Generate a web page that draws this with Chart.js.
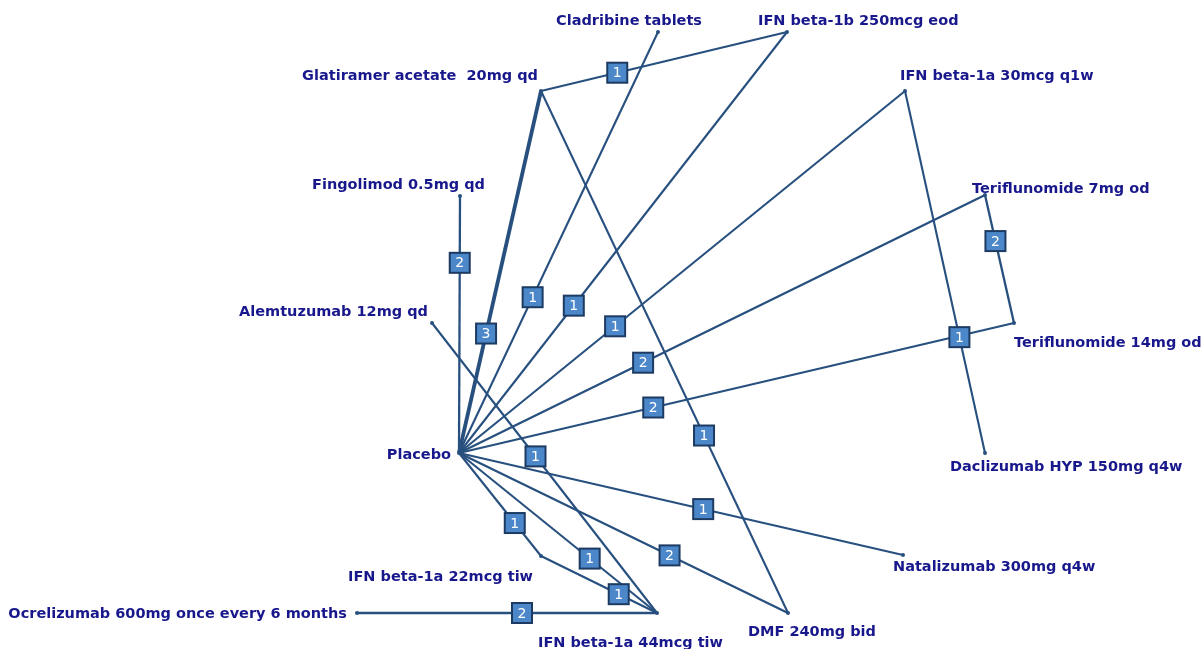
<!DOCTYPE html>
<html>
<head>
<meta charset="utf-8">
<script src="https://cdn.jsdelivr.net/npm/chart.js@4"></script>
<style>
  html, body { margin: 0; padding: 0; background: #fff; }
  #wrap { width: 1203px; height: 649px; position: relative; }
</style>
</head>
<body>
<div id="wrap"><canvas id="net"></canvas></div>
<script>
// ===== network data =====
const treatments = [
  'Placebo', 'Fingolimod 0.5mg qd', 'Alemtuzumab 12mg qd', 'Glatiramer acetate  20mg qd',
  'Cladribine tablets', 'IFN beta-1b 250mcg eod', 'IFN beta-1a 30mcg q1w',
  'Teriflunomide 7mg od', 'Teriflunomide 14mg od', 'Daclizumab HYP 150mg q4w',
  'Natalizumab 300mg q4w', 'DMF 240mg bid', 'IFN beta-1a 44mcg tiw',
  'IFN beta-1a 22mcg tiw', 'Ocrelizumab 600mg once every 6 months'
];
// node layout coordinates (network plot positions)
const nodeX = [459, 460, 432, 541, 658, 787, 905, 985, 1014, 985, 903, 788, 657, 541, 357];
const nodeY = [453, 196, 323,  91,  32,  32,  91, 195,  323, 453, 555, 613, 613, 556, 613];

// comparisons: from, to, number of studies
const edgeFrom    = [0, 0, 0, 0, 0, 0, 0, 0, 0, 0, 0, 3, 3, 2, 13, 6, 7, 14];
const edgeTo      = [1, 3, 4, 5, 6, 7, 8, 10, 11, 12, 13, 5, 11, 12, 12, 9, 8, 12];
const edgeStudies = [2, 3, 1, 1, 1, 2, 2, 1, 2, 1, 1, 1, 1, 1, 1, 1, 2, 2];

// ===== layout / style =====
const LINE  = '#28507f';
const BOXF  = '#4b87c9';
const BOXB  = '#1d3b62';
const TEXT  = '#18188c';
const FONT  = 'bold 14.5px "DejaVu Sans", sans-serif';

// where the count box sits along each edge (fraction from "from" node)
const boxAt = [0.74, 0.33, 0.37, 0.35, 0.35, 0.35, 0.35, 0.55, 0.64, 0.66, 0.68, 0.31, 0.66, 0.46, 0.67, 0.68, 0.36, 0.55];

// label offsets from node: dx, dy, align
const labelPos = [
  [-8, 2, 'right'], [25, -11, 'right'], [-4, -11, 'right'], [-3, -15, 'right'],
  [44, -11, 'right'], [-29, -11, 'left'], [-5, -15, 'left'], [-13, -6, 'left'],
  [0, 20, 'left'], [-35, 14, 'left'], [-10, 12, 'left'], [-40, 19, 'left'],
  [-119, 30, 'left'], [-8, 21, 'right'], [-10, 1, 'right']
];

function edgeWidth(n) {
  return n >= 3 ? 3.8 : (n === 2 ? 2.3 : 2.1);
}

const datasets = edgeFrom.map((f, i) => ({
  type: 'line',
  data: [{ x: nodeX[f], y: nodeY[f] }, { x: nodeX[edgeTo[i]], y: nodeY[edgeTo[i]] }],
  borderColor: LINE,
  borderWidth: edgeWidth(edgeStudies[i]),
  pointRadius: 0,
  fill: false,
  tension: 0
}));

datasets.push({
  type: 'scatter',
  data: treatments.map((t, i) => ({ x: nodeX[i], y: nodeY[i] })),
  pointRadius: 2,
  backgroundColor: LINE,
  borderWidth: 0
});

const netPlugin = {
  id: 'netLabels',
  afterDatasetsDraw(chart) {
    const ctx = chart.ctx;
    const sx = chart.scales.x, sy = chart.scales.y;
    ctx.save();

    // count boxes
    edgeFrom.forEach((f, i) => {
      const t = edgeTo[i];
      const x1 = sx.getPixelForValue(nodeX[f]), y1 = sy.getPixelForValue(nodeY[f]);
      const x2 = sx.getPixelForValue(nodeX[t]), y2 = sy.getPixelForValue(nodeY[t]);
      const px = x1 + (x2 - x1) * boxAt[i];
      const py = y1 + (y2 - y1) * boxAt[i];
      ctx.fillStyle = BOXF;
      ctx.strokeStyle = BOXB;
      ctx.lineWidth = 2;
      ctx.fillRect(px - 10, py - 10, 20, 20);
      ctx.strokeRect(px - 10, py - 10, 20, 20);
      ctx.fillStyle = '#ffffff';
      ctx.font = '14px "DejaVu Sans", sans-serif';
      ctx.textAlign = 'center';
      ctx.textBaseline = 'middle';
      ctx.fillText(String(edgeStudies[i]), px, py + 1);
    });

    // treatment labels
    ctx.font = FONT;
    ctx.fillStyle = TEXT;
    ctx.textBaseline = 'middle';
    treatments.forEach((name, i) => {
      const [dx, dy, al] = labelPos[i];
      ctx.textAlign = al;
      ctx.fillText(name, sx.getPixelForValue(nodeX[i]) + dx, sy.getPixelForValue(nodeY[i]) + dy);
    });
    ctx.restore();
  }
};

new Chart(document.getElementById('net'), {
  type: 'scatter',
  data: { datasets },
  options: {
    responsive: true, maintainAspectRatio: false,
    animation: false,
    layout: { padding: 0, autoPadding: false },
    plugins: { legend: { display: false }, tooltip: { enabled: false } },
    scales: {
      x: { type: 'linear', min: 0, max: 1203, display: false },
      y: { type: 'linear', min: 0, max: 649, reverse: true, display: false }
    }
  },
  plugins: [netPlugin]
});
</script>
</body>
</html>
